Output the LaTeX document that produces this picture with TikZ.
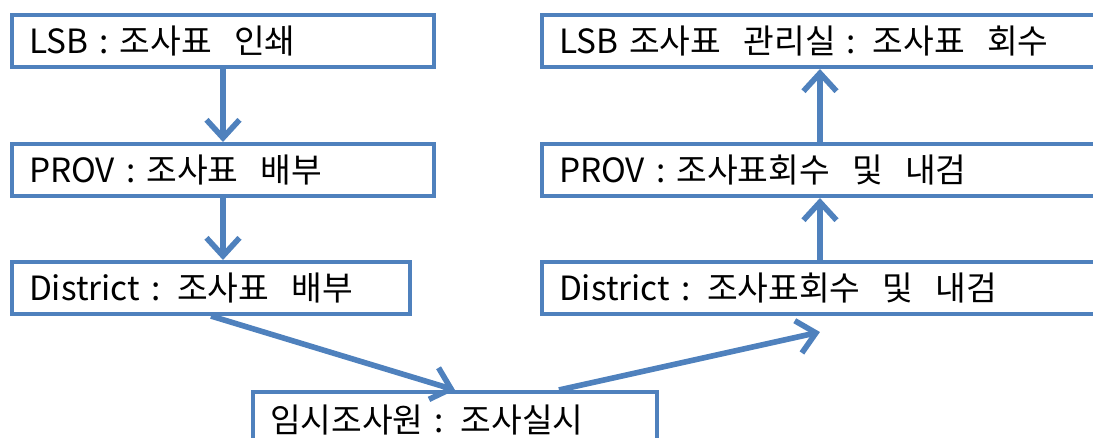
\documentclass[tikz,border=0pt]{standalone}
\usepackage{fontspec}
\setmainfont{Noto Sans CJK KR}
\usetikzlibrary{arrows.meta,positioning}
\definecolor{flowblue}{RGB}{79,129,189}

\begin{document}
\begin{tikzpicture}[
        x=0.02cm, y=-0.02cm,
        box/.style={rectangle, draw=flowblue, line width=2.3pt, fill=white, anchor=north west, minimum height=1.04cm, inner xsep=0.34cm, align=left, font=\fontsize{19}{21}\selectfont},
        arrow/.style={-{Straight Barb[length=0.36cm, width=0.66cm]}, draw=flowblue, line width=3.2pt}
    ]
        \useasboundingbox (0,0) rectangle (1093,438);

        % Left column: printing and handing out
        \node[box, text width=7.76cm] (lsb) at (10,13) {LSB : 조사표~~인쇄};
        \node[box, text width=7.76cm] (prov) at (10,142) {PROV : 조사표~~배부};
        \node[box, text width=7.28cm] (dist) at (10,260) {District : 조사표~~배부};

        % Bottom: field work
        \node[box, text width=7.4cm, minimum height=1.12cm] (field) at (251,390) {임시조사원 : 조사실시};

        % Right column: collecting and checking
        \node[box, text width=10.44cm] (rlsb) at (540,13) {LSB 조사표~~관리실 : 조사표~~회수};
        \node[box, text width=10.44cm] (rprov) at (540,142) {PROV : 조사표회수~~및~~내검};
        \node[box, text width=10.44cm] (rdist) at (540,260) {District : 조사표회수~~및~~내검};

        % Arrows
        \draw[arrow] (lsb) -- (prov);
        \draw[arrow] (prov.south) -- (prov.south |- dist.north);
        \draw[arrow] (dist.south) -- (field.north);
        \draw[arrow] ([xshift=2.08cm]field.north) -- ([yshift=-0.32cm]rdist.south);
        \draw[arrow] (rdist) -- (rprov);
        \draw[arrow] (rprov) -- (rlsb);
    \end{tikzpicture}
\end{document}
